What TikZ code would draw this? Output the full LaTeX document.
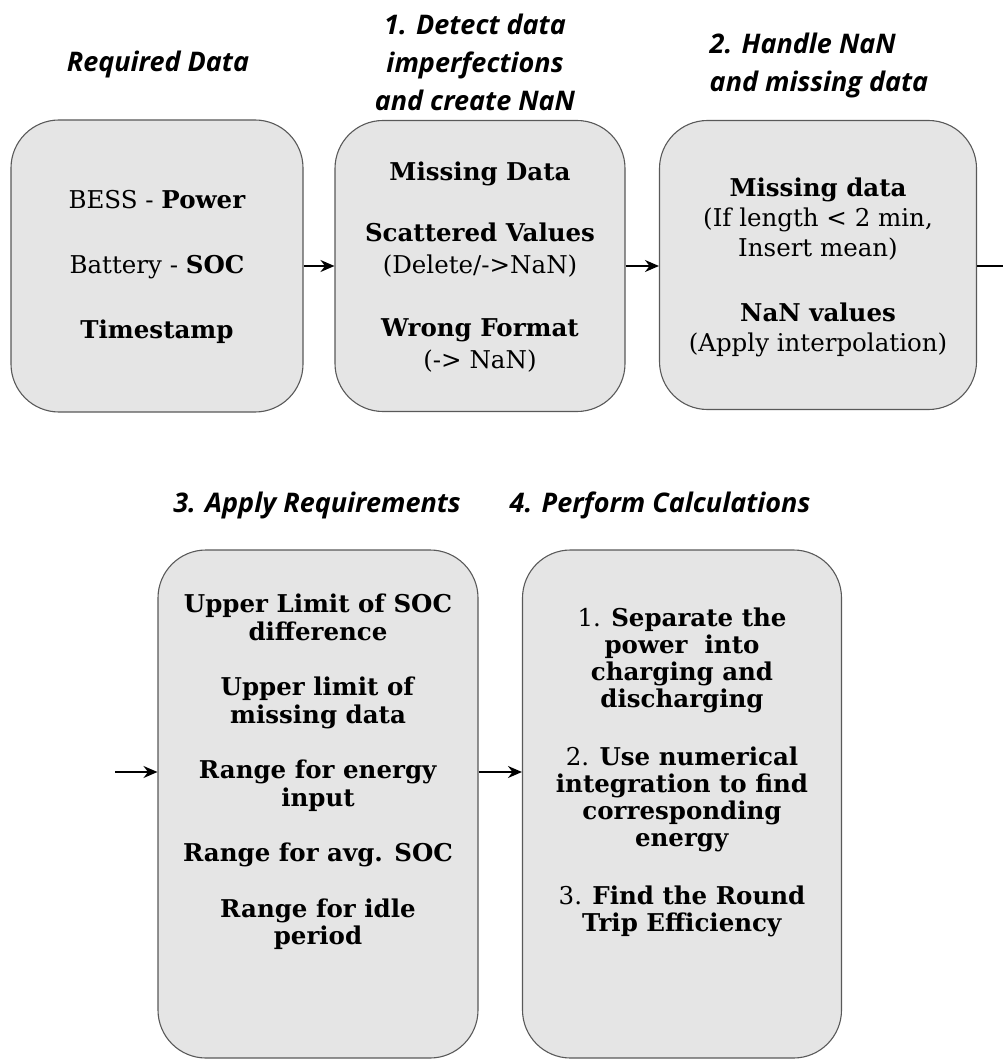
\documentclass[tikz,border=0pt]{standalone}
\usepackage{fontspec}
\setmainfont{DejaVu Serif}
\newfontfamily\titlefont{Open Sans}
\usetikzlibrary{arrows.meta}
\begin{document}
\begin{tikzpicture}[x=1pt,y=-1pt,
  box/.style={draw=black!65,fill=black!10,line width=1.1pt,rounded corners=48pt,inner sep=0pt},
  boxtext/.style={align=center,inner sep=0pt},
  title/.style={font=\titlefont\fontsize{27}{38}\selectfont\bfseries\itshape,inner sep=0pt},
  conn/.style={line width=1.5pt,-{Stealth[length=14pt,width=12pt]}},
  plain/.style={line width=1.5pt}]
\useasboundingbox (0,0) rectangle (1003,1064);
% boxes
\node[box,minimum width=292pt,minimum height=292pt] (b1) at (157,266) {};
\node[box,minimum width=290pt,minimum height=291pt] (b2) at (480,266) {};
\node[box,minimum width=317pt,minimum height=289pt] (b3) at (818,265) {};
\node[box,minimum width=320pt,minimum height=508pt] (b4) at (318,804) {};
\node[box,minimum width=319pt,minimum height=508pt] (b5) at (682,804) {};
% titles
\node[title] (h0) at (158,64) {Required Data};
\node[title,align=center] (h1) at (475,62) {1. Detect data\\imperfections\\and create NaN};
\node[title,align=left] (h2) at (819,65) {2. Handle NaN\\and missing data};
\node[title] (h3) at (317,505) {3. Apply Requirements};
\node[title] (h4) at (660,505) {4. Perform Calculations};
% box texts
\node[boxtext,font=\fontsize{24.5}{65}\selectfont] (t1) at (157,267) {BESS - \textbf{Power}\\Battery - \textbf{SOC}\\\textbf{Timestamp}};
\node[boxtext,font=\fontsize{24.5}{32}\selectfont] (t2) at (480,267) {\textbf{Missing Data}\\[29pt]\textbf{Scattered Values}\\(Delete/->NaN)\\[31pt]\textbf{Wrong Format}\\(-> NaN)};
\node[boxtext,font=\fontsize{24.5}{30}\selectfont] (t3) at (818,267) {\textbf{Missing data}\\(If length < 2 min,\\Insert mean)\\[35pt]\textbf{NaN values}\\(Apply interpolation)};
\node[boxtext,font=\fontsize{24.5}{27.5}\selectfont] (t4) at (318,772) {\textbf{Upper Limit of SOC}\\\textbf{difference}\\[28pt]\textbf{Upper limit of}\\\textbf{missing data}\\[28pt]\textbf{Range for energy}\\\textbf{input}\\[28pt]\textbf{Range for avg. SOC}\\[28pt]\textbf{Range for idle}\\\textbf{period}};
\node[boxtext,font=\fontsize{24.5}{27}\selectfont] (t5) at (682,772) {1. \textbf{Separate the}\\\textbf{power~ into}\\\textbf{charging and}\\\textbf{discharging}\\[31pt]2. \textbf{Use numerical}\\\textbf{integration to find}\\\textbf{corresponding}\\\textbf{energy}\\[31pt]3. \textbf{Find the Round}\\\textbf{Trip Efficiency}};
% connectors
\coordinate (r1) at (0,266);
\coordinate (out3) at (1003,266);
\coordinate (in4) at (115,772);
\draw[conn] (b1.east |- r1) -- (b2.west |- r1);
\draw[conn] (b2.east |- r1) -- (b3.west |- r1);
\draw[plain] (b3.east |- out3) -- (out3);
\draw[conn] (in4) -- (in4 -| b4.west);
\draw[conn] (in4 -| b4.east) -- (in4 -| b5.west);
\end{tikzpicture}
\end{document}
